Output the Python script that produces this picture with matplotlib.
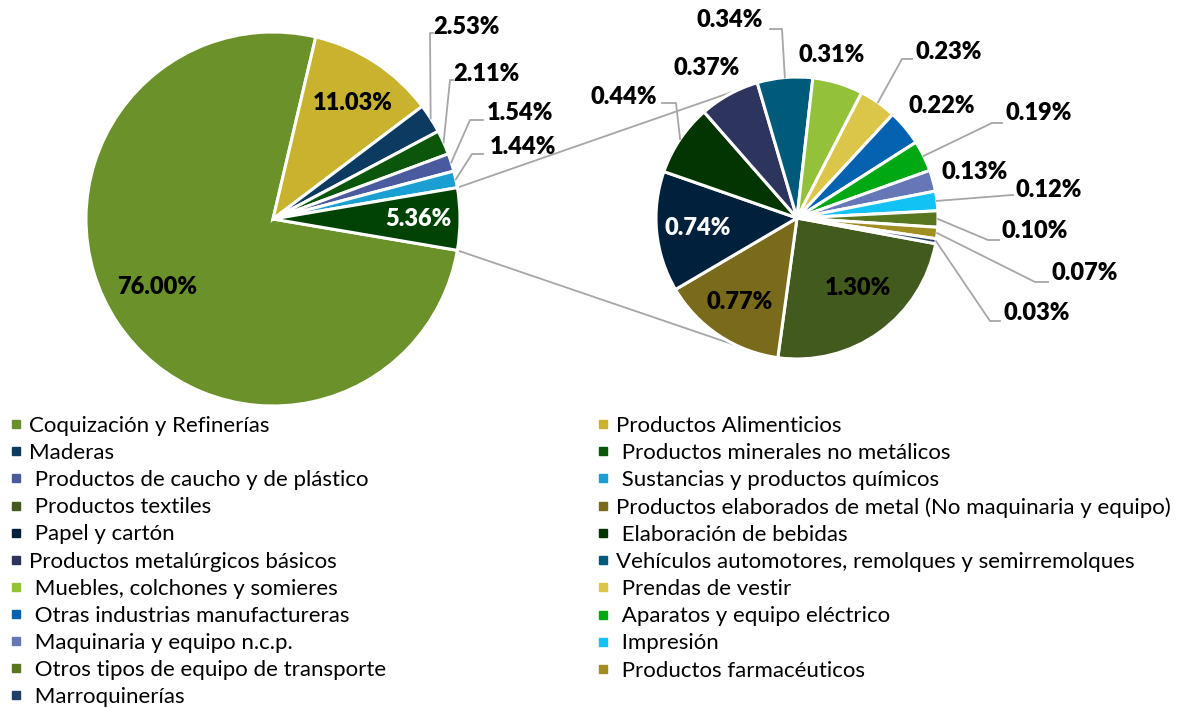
import matplotlib
matplotlib.use("Agg")
import matplotlib.pyplot as plt
from matplotlib.lines import Line2D
import numpy as np

plt.rcParams['font.family'] = ['Lato', 'DejaVu Sans']

# data (% share)
sectores = [
	"Coquización y Refinerías", "Productos Alimenticios", "Maderas",
	" Productos minerales no metálicos", " Productos de caucho y de plástico",
	" Sustancias y productos químicos", " Productos textiles",
	"Productos elaborados de metal (No maquinaria y equipo)", " Papel y cartón",
	" Elaboración de bebidas", "Productos metalúrgicos básicos",
	"Vehículos automotores, remolques y semirremolques",
	" Muebles, colchones y somieres", " Prendas de vestir",
	" Otras industrias manufactureras", " Aparatos y equipo eléctrico",
	" Maquinaria y equipo n.c.p.", " Impresión",
	" Otros tipos de equipo de transporte", " Productos farmacéuticos",
	" Marroquinerías",
]
valores = [76.00, 11.03, 2.53, 2.11, 1.54, 1.44, 1.30, 0.77, 0.74, 0.44, 0.37,
	0.34, 0.31, 0.23, 0.22, 0.19, 0.13, 0.12, 0.10, 0.07, 0.03]
colores = ["#6b912a", "#c9b22e", "#0d3a60", "#0b560b", "#4a5a9e", "#1b9fd3",
	"#435a1e", "#7a6a1b", "#00203c", "#033503", "#2d355e", "#005a7a",
	"#93c23a", "#dcc64a", "#0562b0", "#00a814", "#6677b8", "#12c2f5",
	"#57761f", "#a08e22", "#1f3f6a"]
color_otros = "#004305"

n_main = 6
main_vals = valores[:n_main] + [sum(valores[n_main:])]
main_cols = colores[:n_main] + [color_otros]
sec_vals = valores[n_main:]
sec_cols = colores[n_main:]

W, H = 1180, 708
fig = plt.figure(figsize=(W / 100, H / 100), dpi=100)
ax = fig.add_axes([0, 0, 1, 1])

def P(x, y):
	return x, H - y

c1, r1 = P(273, 219), 187
c2, r2 = P(797, 218), 141

otros_ang = main_vals[-1] / sum(main_vals) * 360
w1, _ = ax.pie(main_vals, colors=main_cols, center=c1, radius=r1, counterclock=False,
	startangle=-otros_ang / 2, wedgeprops=dict(edgecolor='white', linewidth=2.2), frame=True)
w2, _ = ax.pie(sec_vals, colors=sec_cols, center=c2, radius=r2, counterclock=False,
	startangle=-10.5, wedgeprops=dict(edgecolor='white', linewidth=2.2), frame=True)
ax.set_xlim(0, W)
ax.set_ylim(0, H)
ax.set_aspect('equal')
ax.axis('off')

gris = "#a6a6a6"

# connector lines between the pies
a = np.deg2rad(otros_ang / 2)
b = np.deg2rad(114.8)
for s in (1, -1):
	p0 = (c1[0] + r1 * np.cos(a), c1[1] + s * r1 * np.sin(a))
	p1 = (c2[0] + r2 * np.cos(b), c2[1] + s * r2 * np.sin(b))
	ax.plot([p0[0], p1[0]], [p0[1], p1[1]], color=gris, lw=1.3, zorder=0)

def edge_pt(w, center, r):
	m = np.deg2rad((w.theta1 + w.theta2) / 2)
	return center[0] + r * np.cos(m), center[1] + r * np.sin(m)

def pct(v):
	return f"{v:.2f}%"

fs = 17
fw = 'heavy'
# inside labels: (value, x, y, color)
inside = [
	(main_vals[0], 157, 287, 'black'),
	(main_vals[1], 353, 103, 'black'),
	(main_vals[6], 418, 219, 'white'),
	(sec_vals[0], 858, 288, 'black'),
	(sec_vals[1], 740, 302, 'black'),
	(sec_vals[2], 698, 228, 'white'),
]
for v, x, y, col in inside:
	ax.text(*P(x, y), pct(v), ha='center', va='center', fontsize=fs,
		fontweight=fw, color=col)

# outside labels: idx in valores, text x, text y, ha, elbow, end of leader (None = no leader)
outside = [
	(2, 433, 27, 'left', (430, 33), (433, 33)),
	(3, 453, 74, 'left', (450, 80), (453, 80)),
	(4, 487, 113, 'left', (470, 120), (483, 120)),
	(5, 490, 147, 'left', (472, 154), (483, 154)),
	(9, 657, 97, 'right', (676, 103), (662, 103)),
	(10, 707, 68, 'center', None, None),
	(11, 763, 20, 'right', (782, 29), (770, 29)),
	(12, 832, 55, 'center', None, None),
	(13, 915, 52, 'left', (902, 59), (912, 59)),
	(14, 942, 106, 'center', None, None),
	(15, 1006, 113, 'left', (992, 123), (1002, 123)),
	(16, 975, 172, 'center', None, None),
	(17, 1016, 190, 'left', (1012, 195), (1013, 195)),
	(18, 1002, 231, 'left', (988, 240), (999, 240)),
	(19, 1052, 273, 'left', (1035, 282), (1048, 282)),
	(20, 1003, 313, 'left', (990, 321), (1000, 321)),
]
for i, x, y, ha, elbow, end in outside:
	ax.text(*P(x, y), pct(valores[i]), ha=ha, va='center', fontsize=fs,
		fontweight=fw, color='black')
	if elbow is None:
		continue
	if i < n_main:
		p0 = edge_pt(w1[i], c1, r1)
	else:
		p0 = edge_pt(w2[i - n_main], c2, r2)
	e = P(*elbow)
	f = P(*end)
	ax.plot([p0[0], e[0], f[0]], [p0[1], e[1], f[1]], color=gris, lw=1.3)

# legend, row-major in two columns
handles = [Line2D([], [], marker='s', linestyle='none', markersize=6.3,
	markerfacecolor=c, markeredgecolor=c) for c in colores]
left = list(range(0, len(sectores), 2))
right = list(range(1, len(sectores), 2))
leg_kw = dict(frameon=False, fontsize=16, handlelength=0.5, handletextpad=0.33,
	labelspacing=0.32, borderpad=0, borderaxespad=0, loc='upper left')
leg1 = ax.legend([handles[i] for i in left], [sectores[i] for i in left],
	bbox_to_anchor=(10.5 / W, 1 - 416 / H), **leg_kw)
ax.add_artist(leg1)
ax.legend([handles[i] for i in right], [sectores[i] for i in right],
	bbox_to_anchor=(597.5 / W, 1 - 416 / H), **leg_kw)

fig.savefig("out.png", dpi=100)
